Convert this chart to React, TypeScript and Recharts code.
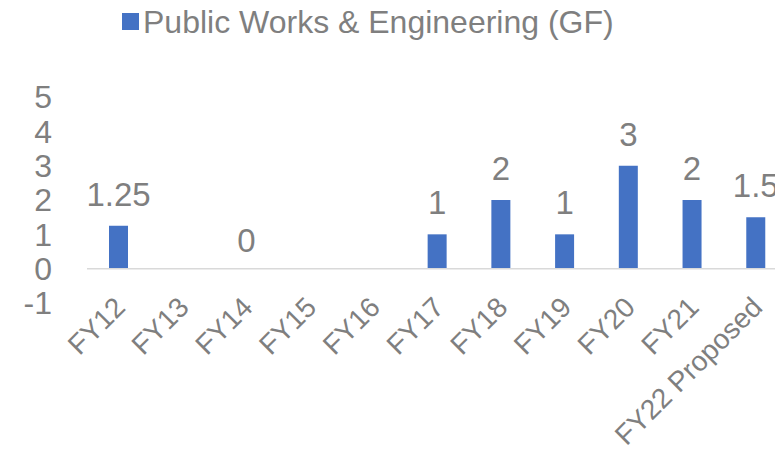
import { Bar, BarChart, LabelList, ReferenceDot, ReferenceLine, XAxis, YAxis } from "recharts";

const categories = [
  "FY12",
  "FY13",
  "FY14",
  "FY15",
  "FY16",
  "FY17",
  "FY18",
  "FY19",
  "FY20",
  "FY21",
  "FY22 Proposed",
];
const positions: (number | null)[] = [1.25, null, 0, null, null, 1, 2, 1, 3, 2, 1.5];
const yTicks = [-1, 0, 1, 2, 3, 4, 5];
const seriesName = "Public Works & Engineering (GF)";

const data = categories.map((name, i) => ({ name, value: positions[i] }));
// zero-height bars get no label from LabelList, so they are marked with a dot instead
const zeroPoints = data.filter((d) => d.value === 0);

const FONT = "'Liberation Sans', Arial, sans-serif";
const TEXT = "#7f7f7f";
const BAR = "#4472C4";

function CategoryTick(props: any) {
  const { x, y, payload } = props;
  return (
    <text
      x={0}
      y={0}
      transform={`translate(${x + 8},${y + 4}) rotate(-45)`}
      textAnchor="end"
      fill={TEXT}
      fontSize={28}
      fontFamily={FONT}
    >
      {payload.value}
    </text>
  );
}

function ValueLabel(props: any) {
  const { x, y, width, value } = props;
  if (value === null || value === undefined) return null;
  return (
    <text
      x={x + width / 2}
      y={y - 20}
      textAnchor="middle"
      fill={TEXT}
      fontSize={33}
      fontFamily={FONT}
    >
      {value}
    </text>
  );
}

export default function App() {
  return (
    <div
      style={{
        position: "absolute",
        left: 0,
        top: 0,
        width: 775,
        height: 450,
        overflow: "hidden",
        background: "#fff",
        fontFamily: FONT,
      }}
    >
      <svg width={775} height={50} style={{ position: "absolute", left: 0, top: 0 }}>
        <rect x={122} y={13} width={17} height={17} fill={BAR} />
        <text x={143} y={33} fill={TEXT} fontSize={32} fontFamily={FONT}>
          {seriesName}
        </text>
      </svg>
      <BarChart
        width={800}
        height={450}
        data={data}
        margin={{ top: 97, right: 12, left: 0, bottom: 117 }}
      >
        <YAxis
          type="number"
          domain={[-1, 5]}
          ticks={yTicks}
          interval={0}
          width={87}
          axisLine={false}
          tickLine={false}
          tickSize={0}
          tickMargin={35}
          tick={{ fill: TEXT, fontSize: 32, fontFamily: FONT }}
        />
        <XAxis
          dataKey="name"
          interval={0}
          height={30}
          axisLine={false}
          tickLine={false}
          tickSize={0}
          tick={<CategoryTick />}
        />
        <ReferenceLine y={0} stroke="#d9d9d9" strokeWidth={1.5} />
        <Bar dataKey="value" fill={BAR} barSize={19} isAnimationActive={false}>
          <LabelList dataKey="value" content={<ValueLabel />} />
        </Bar>
        {zeroPoints.map((d) => (
          <ReferenceDot
            key={d.name}
            x={d.name}
            y={d.value as number}
            r={0}
            fill="none"
            stroke="none"
            label={{
              value: String(d.value),
              position: "top",
              offset: 17,
              fill: TEXT,
              fontSize: 33,
              fontFamily: FONT,
            }}
          />
        ))}
      </BarChart>
    </div>
  );
}
